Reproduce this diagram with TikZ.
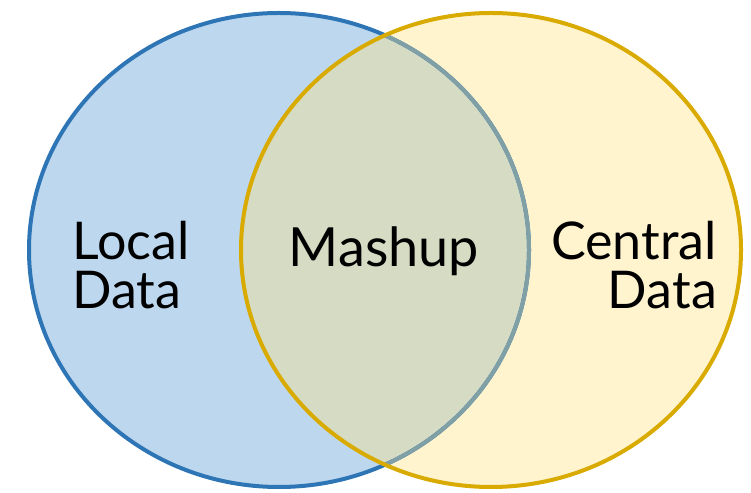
\documentclass[tikz,border=0pt]{standalone}
\usepackage{fontspec}
\setmainfont{Lato}
\usepackage{xcolor}
\usetikzlibrary{positioning}

\definecolor{localfill}{HTML}{BDD7EE}
\definecolor{localline}{HTML}{2E75B6}
\definecolor{centralfill}{HTML}{FFF4CE}
\definecolor{centralline}{HTML}{D9AA00}
\definecolor{mashfill}{HTML}{D6DCC4}
\definecolor{mashline}{HTML}{80A0A6}

\begin{document}
\begin{tikzpicture}[x=1pt, y=1pt]
    % Style for the labels
    \tikzstyle{setlabel}=[inner sep=0pt, font=\fontsize{52}{49}\selectfont];

    \useasboundingbox (0,0) rectangle (751,492);

    % Centres of the two sets
    \coordinate (L) at (279,242);
    \coordinate (C) at (491,242);

    % Fill both sets
    \fill[localfill] (L) ellipse (250 and 237);
    \fill[centralfill] (C) ellipse (250 and 237);

    % Fill the overlap
    \begin{scope}
        \clip (L) ellipse (250 and 237);
        \fill[mashfill] (C) ellipse (250 and 237);
    \end{scope}

    % Outline of the local set, greyed inside the central set
    \draw[localline, line width=4pt] (L) ellipse (250 and 237);
    \begin{scope}
        \clip (C) ellipse (250 and 237);
        \draw[mashline, line width=4pt] (L) ellipse (250 and 237);
    \end{scope}

    % Outline of the central set
    \draw[centralline, line width=4pt] (C) ellipse (250 and 237);

    % Labels
    \node[setlabel, anchor=base west, align=left] (local) at (72,183) {Local\\Data};
    \node[setlabel, anchor=base, font=\fontsize{54}{52}\selectfont] (mashup) at (384,225) {Mashup};
    \node[setlabel, anchor=base east, align=right] (central) at (717,183) {Central\\Data};
\end{tikzpicture}
\end{document}
